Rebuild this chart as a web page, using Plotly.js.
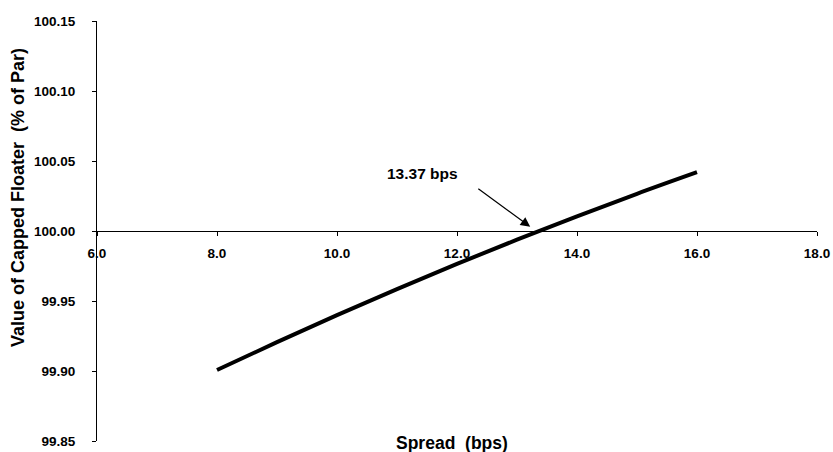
<!DOCTYPE html>
<html>
<head>
<meta charset="utf-8">
<script src="https://cdn.plot.ly/plotly-3.0.1.min.js"></script>
<style>html,body{margin:0;padding:0;background:#fff;}#chart{width:833px;height:452px;}</style>
</head>
<body>
<div id="chart"></div>
<script>
// Data
const spreadBps = [8, 9, 10, 11, 12, 13, 14, 15, 16];
const capValue  = [99.9007, 99.9206, 99.9399, 99.9585, 99.9765, 99.9938, 100.0105, 100.0266, 100.0420];
const xTickVals = [6, 8, 10, 12, 14, 16, 18];
const xTickText = ['6.0', '8.0', '10.0', '12.0', '14.0', '16.0', '18.0'];
const yTickVals = [99.85, 99.90, 99.95, 100.00, 100.05, 100.10, 100.15];
const yTickText = ['99.85', '99.90', '99.95', '100.00', '100.05', '100.10', '100.15'];
const breakEvenSpread = 13.37;
const breakEvenLabel = '13.37 bps';

const fontFam = '"Liberation Sans", Arial, Helvetica, sans-serif';

const trace = {
  x: spreadBps, y: capValue, type: 'scatter', mode: 'lines',
  line: {color: '#000', width: 4, shape: 'spline', smoothing: 1}, hoverinfo: 'skip', showlegend: false
};

const layout = {
  width: 833, height: 452,
  margin: {l: 97, r: 16, t: 21, b: 11},
  paper_bgcolor: '#fff', plot_bgcolor: '#fff',
  font: {family: fontFam, color: '#000'},
  xaxis: {
    range: [6, 18], tickvals: xTickVals, ticktext: xTickText,
    anchor: 'free', position: 0.5,
    showline: true, linecolor: '#000', linewidth: 1,
    ticks: 'outside', ticklen: 4, tickcolor: '#000', tickwidth: 1,
    showgrid: false, zeroline: false,
    tickfont: {family: fontFam, size: 13.5, color: '#000', weight: 'bold'},
    ticklabelstandoff: 6
  },
  yaxis: {
    range: [99.85, 100.15], tickvals: yTickVals, ticktext: yTickText,
    showline: true, linecolor: '#000', linewidth: 1,
    ticks: 'outside', ticklen: 4, tickcolor: '#000', tickwidth: 1,
    showgrid: false, zeroline: false,
    tickfont: {family: fontFam, size: 13.5, color: '#000', weight: 'bold'},
    ticklabelstandoff: 14
  },
  annotations: [
    {
      xref: 'x', yref: 'y', x: breakEvenSpread - 0.15, y: 100.003,
      axref: 'x', ayref: 'y', ax: 12.33, ay: 100.031,
      text: '', showarrow: true, arrowhead: 2, arrowsize: 1.6, arrowwidth: 1.2,
      arrowcolor: '#000'
    },
    {
      xref: 'x', yref: 'y', x: 11.42, y: 100.041,
      text: breakEvenLabel, showarrow: false,
      font: {family: fontFam, size: 15.5, color: '#000', weight: 'bold'}
    },
    {
      xref: 'paper', yref: 'paper', x: (452 - 97) / 720, y: (441 - 443) / 420,
      yanchor: 'middle', xanchor: 'center',
      text: 'Spread  (bps)', showarrow: false,
      font: {family: fontFam, size: 17.5, color: '#000', weight: 'bold'}
    },
    {
      xref: 'paper', yref: 'paper', x: (18 - 97) / 720, y: (441 - 198) / 420,
      xanchor: 'center', yanchor: 'middle', textangle: -90,
      text: 'Value of Capped Floater  (% of Par)', showarrow: false,
      font: {family: fontFam, size: 18, color: '#000', weight: 'bold'}
    }
  ]
};

Plotly.newPlot('chart', [trace], layout, {displayModeBar: false, staticPlot: true});
</script>
</body>
</html>
